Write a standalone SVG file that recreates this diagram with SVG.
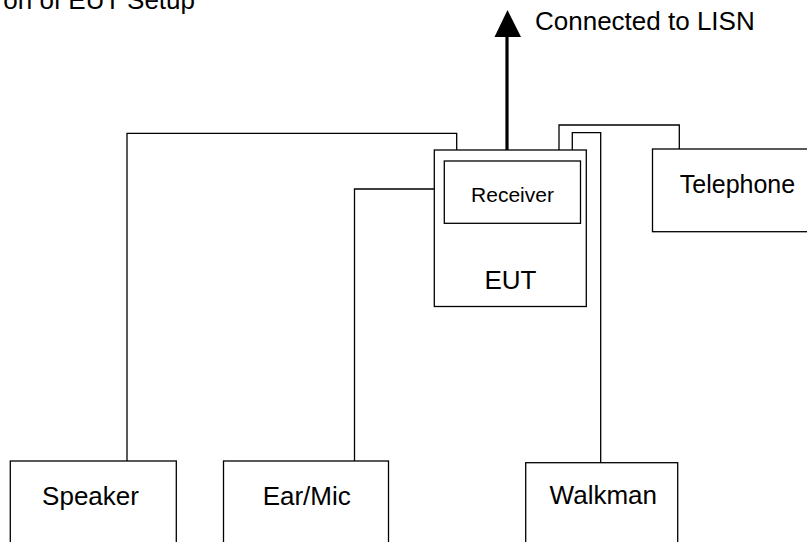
<svg xmlns="http://www.w3.org/2000/svg" width="807" height="542" viewBox="0 0 807 542">
<style>
.box{fill:#fff;stroke:#000;stroke-width:1.3}
.w{fill:none;stroke:#000;stroke-width:1.3}
text{font-family:"Liberation Sans",Arial,sans-serif;fill:#000;font-size:26px}
.c{text-anchor:middle}
</style>
<rect width="807" height="542" fill="#fff"/>
<text x="195" y="9" text-anchor="end">on of EUT Setup</text>
<g id="connectors">
<path class="w" d="M127,461 V133.3 H456.7 V150"/>
<path class="w" d="M354.5,461 V189 H444"/>
<path class="w" d="M559,150 V125 H679.3 V149"/>
<path class="w" d="M572.3,150 V132.7 H600.7 V463"/>
<line x1="507" y1="150" x2="507" y2="35" stroke="#000" stroke-width="3.2"/>
<polygon points="494.5,37 507.5,10 521,37" fill="#000"/>
</g>
<text x="535" y="30">Connected to LISN</text>
<g id="eut">
<rect class="box" x="434.3" y="150" width="152" height="156.5"/>
<text class="c" x="510.5" y="289">EUT</text>
</g>
<g id="receiver">
<rect class="box" x="444.3" y="161" width="136.2" height="62.3"/>
<text class="c" x="512.5" y="202" style="font-size:21px">Receiver</text>
</g>
<g id="telephone">
<rect class="box" x="652.5" y="149" width="160" height="82.7"/>
<text class="c" x="737.5" y="193" style="font-size:25px">Telephone</text>
</g>
<g id="speaker">
<rect class="box" x="10.3" y="461" width="166" height="90"/>
<text class="c" x="90.5" y="505">Speaker</text>
</g>
<g id="earmic">
<rect class="box" x="223.5" y="461" width="165" height="90"/>
<text class="c" x="306.7" y="505">Ear/Mic</text>
</g>
<g id="walkman">
<rect class="box" x="525.7" y="462.7" width="152" height="90"/>
<text class="c" x="603.3" y="503.5">Walkman</text>
</g>
</svg>
